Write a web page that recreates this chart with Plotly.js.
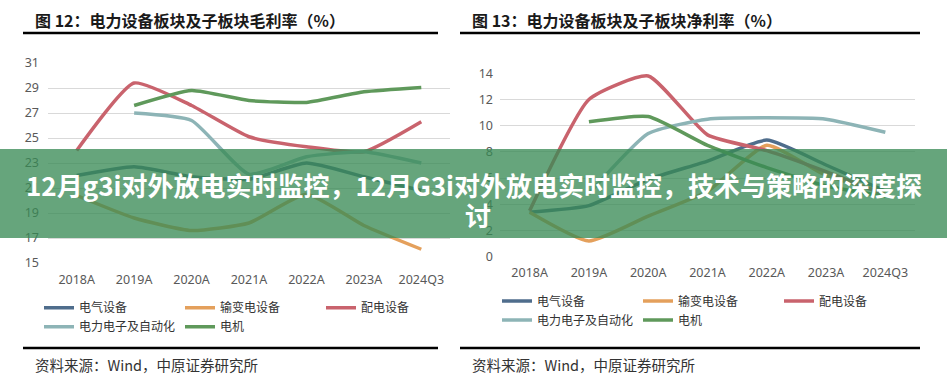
<!DOCTYPE html>
<html><head><meta charset="utf-8">
<script src="https://cdn.plot.ly/plotly-3.0.1.min.js"></script>
<style>html,body{margin:0;padding:0;background:#fff;overflow:hidden}</style>
</head><body><div id="chart" style="width:947px;height:389px"></div>
<script>
// ---- data ----
const categories = ['2018A','2019A','2020A','2021A','2022A','2023A','2024Q3'];
const seriesNames = ['电气设备','输变电设备','配电设备','电力电子及自动化','电机'];
// 图12 毛利率 (%)
const gmElec   = [22.0, 22.7, 21.9, 21.7, 23.0, 21.9, 20.8];
const gmTrans  = [20.4, 18.6, 17.6, 18.2, 20.5, 18.0, 16.1];
const gmDist   = [24.0, 29.4, 27.6, 25.1, 24.3, 23.9, 26.3];
const gmPE     = [null, 27.0, 26.4, 22.1, 23.5, 23.9, 23.0];
const gmMotor  = [null, 27.6, 28.8, 28.0, 27.85, 28.7, 29.05];
// 图13 净利率 (%)
const nmElec   = [3.4, 3.9, 5.9, 7.3, 8.9, 7.0, 5.0];
const nmTrans  = [3.4, 1.2, 3.1, 5.0, 8.5, 6.2, 4.9];
const nmDist   = [3.5, 12.0, 13.8, 9.3, 8.1, 6.5, 4.7];
const nmPE     = [null, 4.8, 9.4, 10.5, 10.6, 10.5, 9.5];
const nmMotor  = [null, 10.3, 10.7, 8.5, 6.8, 5.4, 4.6];
const gmTicks = [15,17,19,21,23,25,27,29,31];
const nmTicks = [0,2,4,6,8,10,12,14];

const titleLeft = '图 12：电力设备板块及子板块毛利率（%）';
const titleRight = '图 13：电力设备板块及子板块净利率（%）';
const sourceText = '资料来源：Wind，中原证券研究所';
const bannerLine1 = '12月g3i对外放电实时监控，12月G3i对外放电实时监控，技术与策略的深度探';
const bannerLine2 = '讨';

// ---- style ----
const colors = ['#4f6d8c','#e4a05c','#c9636d','#8db4b6','#5f995b'];
const W = 947, H = 389;
const px = x => x / W;
const py = y => 1 - y / H;
const FONT = '"Noto Sans CJK SC","Noto Sans",sans-serif';

const leftData = [gmElec, gmTrans, gmDist, gmPE, gmMotor];
const rightData = [nmElec, nmTrans, nmDist, nmPE, nmMotor];
const traces = [];
leftData.forEach((v, i) => traces.push({
  type:'scatter', mode:'lines', x:categories, y:v, name:seriesNames[i],
  xaxis:'x', yaxis:'y', legend: i < 3 ? 'legend' : 'legend2',
  line:{color:colors[i], width:3.5, shape:'spline', smoothing:0.5},
  connectgaps:false, hoverinfo:'skip'
}));
rightData.forEach((v, i) => traces.push({
  type:'scatter', mode:'lines', x:categories, y:v, name:seriesNames[i],
  xaxis:'x2', yaxis:'y2', legend: i < 3 ? 'legend3' : 'legend4',
  line:{color:colors[i], width:3.5, shape:'spline', smoothing:0.5},
  connectgaps:false, hoverinfo:'skip'
}));

const tickFont = {family:'"Noto Sans","Noto Sans CJK SC",sans-serif', size:12.5, color:'#595959'};
const xax = dom => ({domain:dom, type:'category', showgrid:false, zeroline:false, showline:false,
  ticks:'', tickfont:tickFont, fixedrange:true, range:[-0.5, 6.5], ticklabelstandoff:7});
const yax = (dom, rng, tv, anchor, so) => ({domain:dom, range:rng, tickvals:tv, showgrid:true,
  gridcolor:'#d9d9d9', gridwidth:1, zeroline:false, showline:false, ticks:'',
  tickfont:tickFont, fixedrange:true, anchor:anchor, ticklabelstandoff:so});

const legendBase = (x, y) => ({orientation:'h', x:px(x), xanchor:'left', y:py(y), yanchor:'middle',
  font:{family:FONT, size:12, color:'#333'}, entrywidth:96, itemwidth:30,
  bgcolor:'rgba(0,0,0,0)', traceorder:'normal'});

const layout = {
  width:W, height:H, margin:{l:0,r:0,t:0,b:0},
  paper_bgcolor:'#fff', plot_bgcolor:'rgba(0,0,0,0)',
  showlegend:true,
  xaxis: Object.assign(xax([px(48), px(450)]), {anchor:'y'}),
  yaxis: yax([py(263), py(63)], [15,31], gmTicks, 'x', 8),
  xaxis2: Object.assign(xax([px(500), px(915)]), {anchor:'y2'}),
  yaxis2: yax([py(256.7), py(73.3)], [0,14], nmTicks, 'x2', 6),
  legend: legendBase(39, 307.7),
  legend2: legendBase(39, 326.7),
  legend3: legendBase(497, 301),
  legend4: legendBase(497, 320),
  shapes: [
    {type:'line', xref:'paper', yref:'paper', x0:px(23), x1:px(438), y0:py(33), y1:py(33), line:{color:'#000', width:2.5}},
    {type:'line', xref:'paper', yref:'paper', x0:px(460), x1:px(920), y0:py(33), y1:py(33), line:{color:'#000', width:2.5}},
    {type:'line', xref:'paper', yref:'paper', x0:px(23), x1:px(438), y0:py(348), y1:py(348), line:{color:'#000', width:2.5}},
    {type:'line', xref:'paper', yref:'paper', x0:px(460), x1:px(920), y0:py(348), y1:py(348), line:{color:'#000', width:2.5}},
    {type:'rect', xref:'paper', yref:'paper', x0:0, x1:1, y0:py(238), y1:py(149), layer:'above',
     fillcolor:'rgba(56,138,84,0.77)', line:{width:0}}
  ],
  annotations: [
    {xref:'paper', yref:'paper', x:px(33), y:py(20), xanchor:'left', yanchor:'middle', showarrow:false,
     text:'<b>'+titleLeft+'</b>', font:{family:FONT, size:16, color:'#1a1a1a'}},
    {xref:'paper', yref:'paper', x:px(470), y:py(20), xanchor:'left', yanchor:'middle', showarrow:false,
     text:'<b>'+titleRight+'</b>', font:{family:FONT, size:16, color:'#1a1a1a'}},
    {xref:'paper', yref:'paper', x:px(33), y:py(364), xanchor:'left', yanchor:'middle', showarrow:false,
     text:sourceText, font:{family:FONT, size:14.5, color:'#333'}},
    {xref:'paper', yref:'paper', x:px(470), y:py(364), xanchor:'left', yanchor:'middle', showarrow:false,
     text:sourceText, font:{family:FONT, size:14.5, color:'#333'}},
    {xref:'paper', yref:'paper', x:px(473.5), y:py(184), xanchor:'center', yanchor:'middle', showarrow:false,
     text:'<b>'+bannerLine1+'</b>', font:{family:FONT, size:26, color:'#fff'}},
    {xref:'paper', yref:'paper', x:px(478), y:py(214), xanchor:'center', yanchor:'middle', showarrow:false,
     text:'<b>'+bannerLine2+'</b>', font:{family:FONT, size:26, color:'#fff'}}
  ]
};

Plotly.newPlot('chart', traces, layout, {displayModeBar:false, staticPlot:true});
</script></body></html>
